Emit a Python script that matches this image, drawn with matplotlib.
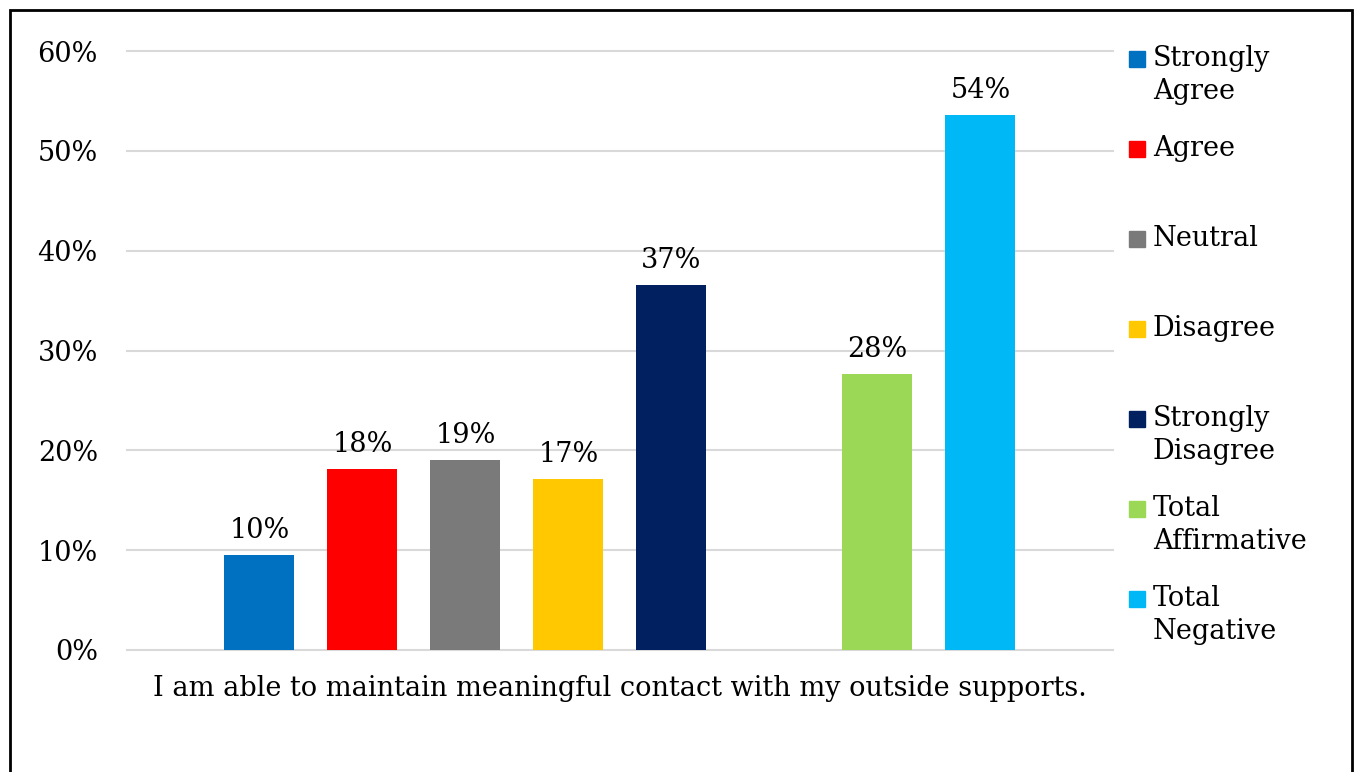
import matplotlib
matplotlib.use("Agg")
import matplotlib.pyplot as plt
from matplotlib.patches import Rectangle

plt.rcParams['font.family'] = ['DejaVu Serif']

# data
series = ["Strongly\nAgree", "Agree", "Neutral", "Disagree", "Strongly\nDisagree",
          "Total\nAffirmative", "Total\nNegative"]
values = [0.095, 0.181, 0.190, 0.171, 0.366, 0.276, 0.536]
labels = ["10%", "18%", "19%", "17%", "37%", "28%", "54%"]
colors = ["#0070C0", "#FF0000", "#7A7A7A", "#FFC800", "#002060", "#9BD855", "#00B8F5"]
slots = [0, 1, 2, 3, 4, 6, 7]
category = "I am able to maintain meaningful contact with my outside supports."
yticks = [0, 0.1, 0.2, 0.3, 0.4, 0.5, 0.6]
ytick_labels = ["0%", "10%", "20%", "30%", "40%", "50%", "60%"]

W, H = 1356, 772
fig = plt.figure(figsize=(W / 100, H / 100), dpi=100)
ax = fig.add_axes([127 / W, 1 - 650 / H, (1113 - 127) / W, (650 - 51) / H])

fs = 19.5
ax.bar(slots, values, width=0.68, color=colors, zorder=3)
for x, v, lab in zip(slots, values, labels):
    ax.text(x, v + 0.011, lab, ha='center', va='bottom', fontsize=fs)

ax.set_ylim(0, 0.6)
ax.set_xlim(-1.286, 8.287)
ax.set_yticks(yticks)
ax.set_yticklabels(ytick_labels, fontsize=fs)
ax.set_xticks([3.5])
ax.set_xticklabels([category], fontsize=fs)
ax.tick_params(length=0)
ax.tick_params(axis='y', pad=21)
ax.tick_params(axis='x', pad=18)
ax.grid(axis='y', color='#d9d9d9', linewidth=1.5, zorder=0, clip_on=False)
for s in ax.spines.values():
    s.set_visible(False)

# legend drawn by hand, one 90px slot per entry
for i, (name, c) in enumerate(zip(series, colors)):
    yc = 59 + 90 * i
    fig.add_artist(Rectangle((1129 / W, 1 - (yc + 8) / H), 16 / W, 16 / H,
                             transform=fig.transFigure, color=c))
    fig.text(1153 / W, 1 - (yc - 14) / H, name, ha='left', va='top', fontsize=fs,
             linespacing=1.3)

# outer frame
fig.add_artist(Rectangle((10 / W, -0.05), (1352 - 10) / W, 1.05 - 10 / H,
                         transform=fig.transFigure, fill=False, edgecolor='black',
                         linewidth=2))

fig.savefig("out.png", dpi=100)
